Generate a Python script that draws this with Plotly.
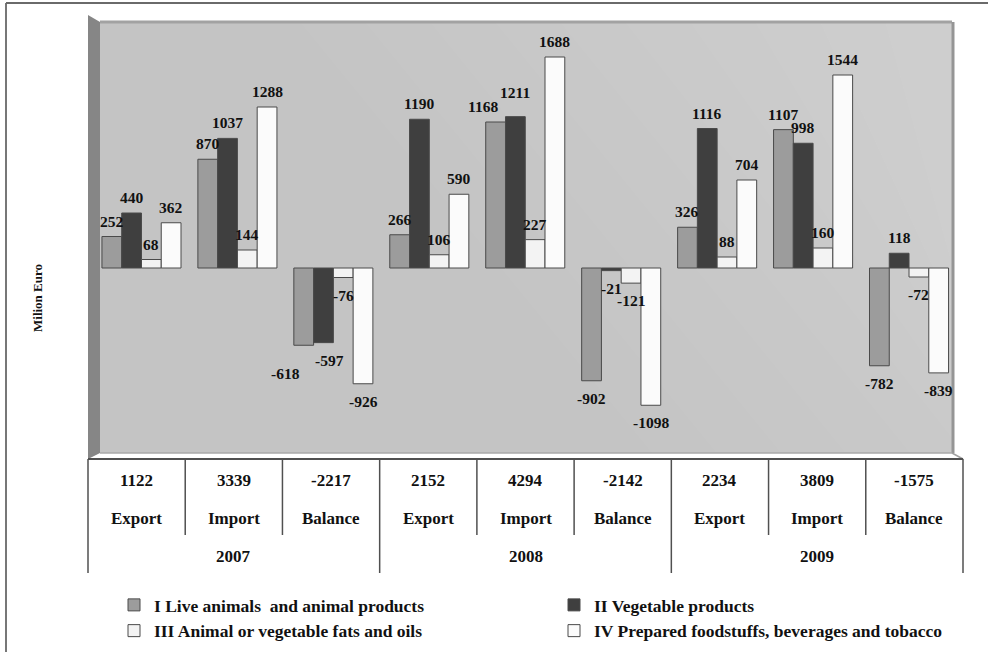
import plotly.graph_objects as go

# ---- data -------------------------------------------------------------
columns = ["Export", "Import", "Balance",
           "Export", "Import", "Balance",
           "Export", "Import", "Balance"]
years = ["2007", "2008", "2009"]

series_names = [
    "I Live animals  and animal products",
    "II Vegetable products",
    "III Animal or vegetable fats and oils",
    "IV Prepared foodstuffs, beverages and tobacco",
]
live_animals = [252, 870, -618, 266, 1168, -902, 326, 1107, -782]
vegetable = [440, 1037, -597, 1190, 1211, -21, 1116, 998, 118]
fats_oils = [68, 144, -76, 106, 227, -121, 88, 160, -72]
foodstuffs = [362, 1288, -926, 590, 1688, -1098, 704, 1544, -839]

series_values = [live_animals, vegetable, fats_oils, foodstuffs]
series_fill = ["#9c9c9c", "#3f3f3f", "#f3f3f3", "#fbfbfb"]
totals = [sum(v) for v in zip(*series_values)]

# ---- geometry helpers (pixel -> paper) --------------------------------
W, H = 988, 652


def px(x):
    return x / W


def py(y):
    return 1 - y / H


SERIF = "Liberation Serif"
BAR_GAP = 0.176
x_idx = list(range(len(columns)))

# small pixel nudges (dx, dy) for labels that would otherwise collide
label_nudge = {
    (0, 2): (-18, -11),
    (1, 2): (6, 0),
    (0, 4): (-13, 0),
    (1, 4): (0, 9),
}

fig = go.Figure()
for i, (name, vals, col) in enumerate(zip(series_names, series_values, series_fill)):
    fig.add_trace(go.Bar(
        x=x_idx, y=vals, name=name,
        marker=dict(color=col, line=dict(color="#4a4a4a", width=1)),
        legend="legend" if i % 2 == 0 else "legend2",
        legendgroup=f"g{i}",
        hoverinfo="skip",
    ))

annotations = []

# value labels, drawn above every bar layer
label_font = dict(family=SERIF, size=15.5, color="#111", weight="bold")
bar_w = (1 - BAR_GAP) / len(series_values)
for j, vals in enumerate(series_values):
    for i, v in enumerate(vals):
        xc = i + (j - (len(series_values) - 1) / 2) * bar_w
        dx, dy = label_nudge.get((j, i), (0, 0))
        annotations.append(dict(
            x=xc, y=v, xref="x", yref="y", text=str(v), showarrow=False,
            yanchor="bottom" if v >= 0 else "top",
            xshift=dx,
            yshift=(5 if v >= 0 else -7) + dy,
            font=label_font,
        ))

shapes = []
# back wall of the chart
shapes.append(dict(type="rect", xref="paper", yref="paper",
                   x0=px(100), x1=px(952), y0=py(453), y1=py(22),
                   fillcolor="#c4c4c4", line=dict(width=0), layer="below"))
# gentle diagonal lightening towards the upper right
n_bands = 10
for k in range(n_bands):
    xa = 300 + k * 65
    yb = 453 - k * 43 + 200
    shapes.append(dict(type="path", xref="paper", yref="paper",
                       path=(f"M {px(xa)},{py(22)} L {px(952)},{py(22)} "
                             f"L {px(952)},{py(min(yb, 453))} "
                             + (f"L {px(952 - (yb - 453) * 1.5)},{py(453)} " if yb > 453 else "")
                             + "Z"),
                       fillcolor="white", opacity=0.03, line=dict(width=0), layer="below"))
# top edge of the wall
shapes.append(dict(type="line", xref="paper", yref="paper",
                   x0=px(100), x1=px(952), y0=py(22), y1=py(22),
                   line=dict(color="#a2a2a2", width=3), layer="below"))
# left side wall
shapes.append(dict(type="path", xref="paper", yref="paper",
                   path=(f"M {px(88)},{py(15)} L {px(100)},{py(22)} "
                         f"L {px(100)},{py(453)} L {px(88)},{py(459)} Z"),
                   fillcolor="#868686", line=dict(width=0), layer="below"))
# right edge and floor edges
shapes.append(dict(type="line", xref="paper", yref="paper",
                   x0=px(953), x1=px(953), y0=py(22), y1=py(453),
                   line=dict(color="#959595", width=3), layer="below"))
shapes.append(dict(type="line", xref="paper", yref="paper",
                   x0=px(100), x1=px(952), y0=py(453), y1=py(453),
                   line=dict(color="#a8a8a8", width=1.5), layer="below"))
shapes.append(dict(type="line", xref="paper", yref="paper",
                   x0=px(952), x1=px(963), y0=py(453), y1=py(459),
                   line=dict(color="#a0a0a0", width=1.5), layer="below"))

# data table under the chart
tbl_left, tbl_right, tbl_top = 88, 963, 459
col_w = (tbl_right - tbl_left) / len(columns)
shapes.append(dict(type="line", xref="paper", yref="paper",
                   x0=px(tbl_left), x1=px(tbl_right), y0=py(tbl_top), y1=py(tbl_top),
                   line=dict(color="#505050", width=2)))
for i in range(len(columns) + 1):
    xv = tbl_left + i * col_w
    y_end = 573 if i % 3 == 0 else 535
    shapes.append(dict(type="line", xref="paper", yref="paper",
                       x0=px(xv), x1=px(xv), y0=py(tbl_top), y1=py(y_end),
                       line=dict(color="#505050", width=1.5)))

# outer frame
shapes.append(dict(type="line", xref="paper", yref="paper",
                   x0=px(6), x1=px(6), y0=py(3), y1=py(652),
                   line=dict(color="#4a4a4a", width=1.5)))
shapes.append(dict(type="line", xref="paper", yref="paper",
                   x0=px(6), x1=px(988), y0=py(3), y1=py(3),
                   line=dict(color="#6a6a6a", width=2)))

tbl_font = dict(family=SERIF, size=17, color="#111", weight="bold")
for i, (lab, tot) in enumerate(zip(columns, totals)):
    cx = tbl_left + (i + 0.5) * col_w
    annotations.append(dict(x=px(cx), y=py(480), xref="paper", yref="paper",
                            xanchor="center", yanchor="middle",
                            text=str(tot), showarrow=False, font=tbl_font))
    annotations.append(dict(x=px(cx), y=py(518), xref="paper", yref="paper",
                            xanchor="center", yanchor="middle",
                            text=lab, showarrow=False, font=tbl_font))
for j, yr in enumerate(years):
    cx = tbl_left + (3 * j + 1.5) * col_w
    annotations.append(dict(x=px(cx), y=py(556), xref="paper", yref="paper",
                            xanchor="center", yanchor="middle",
                            text=yr, showarrow=False, font=tbl_font))

annotations.append(dict(x=px(37), y=py(298), xref="paper", yref="paper",
                        xanchor="center", yanchor="middle",
                        text="Milion Euro", textangle=-90, showarrow=False,
                        font=dict(family=SERIF, size=13, color="#111", weight="bold")))

legend_font = dict(family=SERIF, size=17.5, color="#111", weight="bold")

zero_px, unit_per_px = 268, 8.0
y_top = (zero_px - 22) * unit_per_px
y_bottom = -(453 - zero_px) * unit_per_px

fig.update_layout(
    width=W, height=H,
    margin=dict(l=0, r=0, t=0, b=0),
    paper_bgcolor="white", plot_bgcolor="rgba(0,0,0,0)",
    barmode="group", bargap=BAR_GAP, bargroupgap=0,
    xaxis=dict(domain=[px(93.5), px(957)], range=[-0.5, 8.5],
               showticklabels=False, showgrid=False, zeroline=False,
               showline=False, fixedrange=True),
    yaxis=dict(domain=[py(453), py(22)], range=[y_bottom, y_top],
               showticklabels=False, showgrid=False, zeroline=False,
               showline=False, fixedrange=True),
    shapes=shapes, annotations=annotations,
    legend=dict(x=px(114), y=py(587), xanchor="left", yanchor="top",
                orientation="v", font=legend_font, tracegroupgap=0,
                itemwidth=30, bgcolor="rgba(0,0,0,0)"),
    legend2=dict(x=px(554), y=py(587), xanchor="left", yanchor="top",
                 orientation="v", font=legend_font, tracegroupgap=0,
                 itemwidth=30, bgcolor="rgba(0,0,0,0)"),
    showlegend=True,
)

fig.write_html("out.html")
